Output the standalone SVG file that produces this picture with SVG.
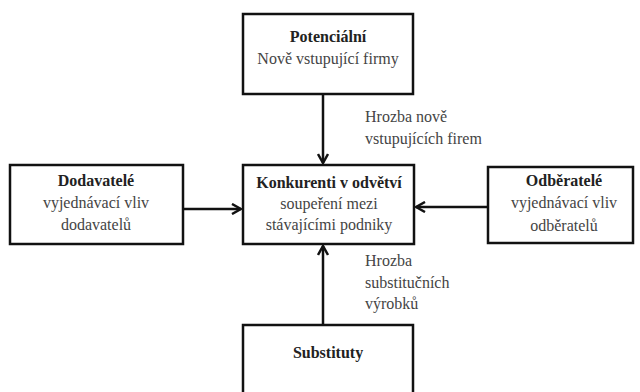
<svg xmlns="http://www.w3.org/2000/svg" width="640" height="392" viewBox="0 0 640 392">
<defs>
<style>
.box{fill:#fff;stroke:#111;stroke-width:2.5}
.t{font-family:"Liberation Serif","Times New Roman",serif;font-size:16px;fill:#444;text-anchor:middle}
.b{font-weight:bold;fill:#222;font-size:16px}
.l{font-family:"Liberation Serif","Times New Roman",serif;font-size:16px;fill:#444}
.c{stroke:#111;stroke-width:2.5;fill:none}
</style>
<marker id="ah" viewBox="0 0 12 12" refX="11" refY="6" markerWidth="12" markerHeight="12" markerUnits="userSpaceOnUse" orient="auto">
<path d="M2,1 L11,6 L2,11" fill="none" stroke="#111" stroke-width="2.5"/>
</marker>
</defs>
<rect width="640" height="392" fill="#fff"/>
<g id="connectors">
<line class="c" x1="323" y1="94" x2="323" y2="163" marker-end="url(#ah)"/>
<line class="c" x1="183" y1="209" x2="241" y2="209" marker-end="url(#ah)"/>
<line class="c" x1="488" y1="207" x2="416" y2="207" marker-end="url(#ah)"/>
<line class="c" x1="323" y1="325" x2="323" y2="246" marker-end="url(#ah)"/>
<text class="l" x="365" y="122">Hrozba nově</text>
<text class="l" x="365" y="144">vstupujících firem</text>
<text class="l" x="365" y="266">Hrozba</text>
<text class="l" x="365" y="288">substitučních</text>
<text class="l" x="365" y="309">výrobků</text>
</g>
<g id="potencialni">
<rect class="box" x="243" y="14" width="170" height="80"/>
<text class="t b" x="328" y="42">Potenciální</text>
<text class="t" x="328" y="64">Nově vstupující firmy</text>
</g>
<g id="konkurenti">
<rect class="box" x="243" y="165" width="171" height="79"/>
<text class="t b" x="329" y="188">Konkurenti v odvětví</text>
<text class="t" x="329" y="209">soupeření mezi</text>
<text class="t" x="329" y="230">stávajícími podniky</text>
</g>
<g id="dodavatele">
<rect class="box" x="10" y="165" width="173" height="79"/>
<text class="t b" x="96" y="186">Dodavatelé</text>
<text class="t" x="96" y="208">vyjednávací vliv</text>
<text class="t" x="96" y="230">dodavatelů</text>
</g>
<g id="odberatele">
<rect class="box" x="488" y="167" width="145" height="76"/>
<text class="t b" x="564" y="186">Odběratelé</text>
<text class="t" x="564" y="208">vyjednávací vliv</text>
<text class="t" x="564" y="231">odběratelů</text>
</g>
<g id="substituty">
<rect class="box" x="243" y="325" width="170" height="80"/>
<text class="t b" x="328" y="358">Substituty</text>
</g>
</svg>
